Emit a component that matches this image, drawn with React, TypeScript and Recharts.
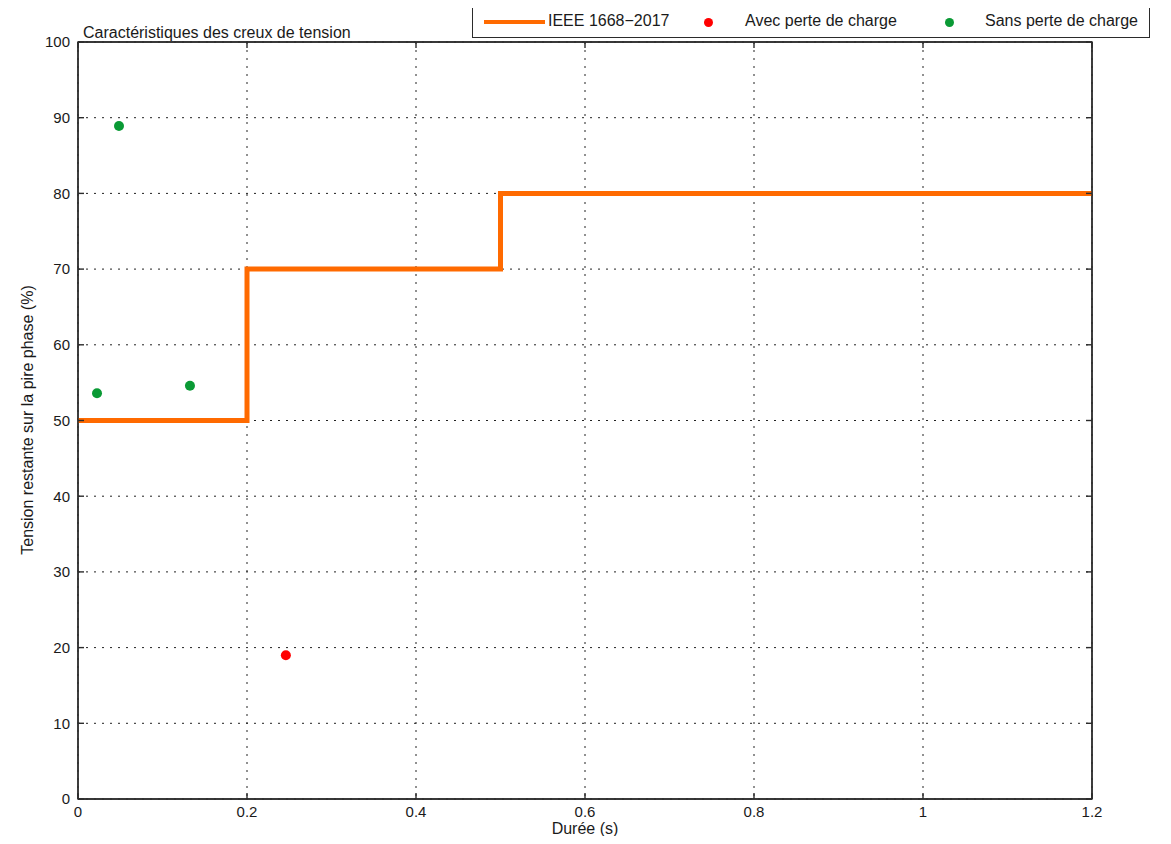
import React from "react";
import {
  ComposedChart,
  Line,
  Scatter,
  XAxis,
  YAxis,
  CartesianGrid,
  Legend,
  ReferenceArea,
} from "recharts";

// IEEE 1668-2017 limit curve (step after each point)
const ieeeDuree = [0, 0.2, 0.5, 1.2];
const ieeeTension = [50, 70, 80, 80];

// measured dips
const avecDuree = [0.246];
const avecTension = [19.0];
const sansDuree = [0.0225, 0.0485, 0.1325];
const sansTension = [53.6, 88.9, 54.6];

const xTicks = [0, 0.2, 0.4, 0.6, 0.8, 1, 1.2];
const yTicks = [0, 10, 20, 30, 40, 50, 60, 70, 80, 90, 100];

const seriesNames = ["IEEE 1668\u22122017", "Avec perte de charge", "Sans perte de charge"];

const ORANGE = "#ff6a00";
const RED = "#ff0000";
const GREEN = "#0a9a35";
const AXIS = "#2b2b2b";
const TEXT = "#1a1a1a";
const FONT = '"Liberation Sans", Arial, Helvetica, sans-serif';

const ieeeData = ieeeDuree.map((x, i) => ({ x, y: ieeeTension[i] }));
const avecData = avecDuree.map((x, i) => ({ x, y: avecTension[i] }));
const sansData = sansDuree.map((x, i) => ({ x, y: sansTension[i] }));

const fmtX = (v: number) => String(v);
const blank = () => "";
const axisLine = { stroke: AXIS, strokeWidth: 1.4 };

const dotShape = (color: string) => (props: any) =>
  <circle cx={props.cx} cy={props.cy} r={5} fill={color} />;

const renderLegend = () => (
  <div
    style={{
      width: 678,
      height: 33,
      boxSizing: "border-box",
      border: `1.5px solid ${AXIS}`,
      background: "#fff",
      position: "relative",
      fontFamily: FONT,
      fontSize: 16,
      color: TEXT,
    }}
  >
    <div style={{ position: "absolute", left: 11, top: 14, width: 61, height: 4, background: ORANGE }} />
    <span style={{ position: "absolute", left: 75, top: 6 }}>{seriesNames[0]}</span>
    <div style={{ position: "absolute", left: 231, top: 12, width: 9, height: 9, borderRadius: 5, background: RED }} />
    <span style={{ position: "absolute", left: 272, top: 6 }}>{seriesNames[1]}</span>
    <div style={{ position: "absolute", left: 472, top: 12, width: 9, height: 9, borderRadius: 5, background: GREEN }} />
    <span style={{ position: "absolute", left: 512, top: 6 }}>{seriesNames[2]}</span>
  </div>
);

const textStyle: React.CSSProperties = {
  position: "absolute",
  fontFamily: FONT,
  fontSize: 16,
  lineHeight: "16px",
  color: TEXT,
  whiteSpace: "nowrap",
  zIndex: 2,
};

export default function App() {
  return (
    <div style={{ margin: -8, width: 1171, height: 844, position: "relative", background: "#fff" }}>
      <div style={{ ...textStyle, left: 83, top: 25 }}>Caractéristiques des creux de tension</div>
      <div style={{ ...textStyle, left: 585, top: 821, transform: "translateX(-50%)" }}>Durée (s)</div>
      <div
        style={{
          ...textStyle,
          left: 28,
          top: 420,
          transform: "translate(-50%, -50%) rotate(-90deg)",
        }}
      >
        Tension restante sur la pire phase (%)
      </div>
      <ComposedChart
        width={1171}
        height={844}
        data={ieeeData}
        margin={{ top: 41, right: 78, left: 0, bottom: 0 }}
        style={{ fontFamily: FONT }}
      >
        <CartesianGrid xAxisId="main" yAxisId="main" stroke="#222" strokeDasharray="2 6" strokeWidth={1} />
        <XAxis
          xAxisId="main"
          dataKey="x"
          type="number"
          domain={[0, 1.2]}
          ticks={xTicks}
          tickFormatter={fmtX}
          height={45}
          tickSize={-6}
          tickMargin={13}
          interval={0}
          axisLine={axisLine}
          tickLine={axisLine}
          tick={{ fill: TEXT, fontSize: 15 }}
          allowDataOverflow
        />
        <XAxis
          xAxisId="top"
          orientation="top"
          dataKey="x"
          type="number"
          domain={[0, 1.2]}
          ticks={xTicks}
          tickFormatter={blank}
          height={1}
          tickSize={-6}
          interval={0}
          axisLine={axisLine}
          tickLine={axisLine}
        />
        <YAxis
          yAxisId="main"
          type="number"
          domain={[0, 100]}
          ticks={yTicks}
          width={78}
          tickSize={-6}
          tickMargin={14}
          interval={0}
          axisLine={axisLine}
          tickLine={axisLine}
          tick={{ fill: TEXT, fontSize: 15 }}
        />
        <YAxis
          yAxisId="right"
          orientation="right"
          type="number"
          domain={[0, 100]}
          ticks={yTicks}
          width={1}
          tickSize={-6}
          tickFormatter={blank}
          interval={0}
          axisLine={axisLine}
          tickLine={axisLine}
        />
        {/* plot box */}
        <ReferenceArea
          xAxisId="main"
          yAxisId="main"
          x1={0}
          x2={1.2}
          y1={0}
          y2={100}
          fill="none"
          fillOpacity={0}
          stroke={AXIS}
          strokeWidth={1.4}
          strokeOpacity={1}
        />
        {/* invisible copy that ties the box axes (top / right) to data */}
        <Line
          xAxisId="top"
          yAxisId="right"
          data={ieeeData}
          dataKey="y"
          stroke="none"
          dot={false}
          legendType="none"
          isAnimationActive={false}
        />
        <Line
          xAxisId="main"
          yAxisId="main"
          data={ieeeData}
          dataKey="y"
          type="stepAfter"
          stroke={ORANGE}
          strokeWidth={5}
          dot={false}
          name={seriesNames[0]}
          isAnimationActive={false}
        />
        <Scatter
          xAxisId="main"
          yAxisId="main"
          data={avecData}
          dataKey="y"
          name={seriesNames[1]}
          fill={RED}
          shape={dotShape(RED)}
          isAnimationActive={false}
        />
        <Scatter
          xAxisId="main"
          yAxisId="main"
          data={sansData}
          dataKey="y"
          name={seriesNames[2]}
          fill={GREEN}
          shape={dotShape(GREEN)}
          isAnimationActive={false}
        />
        <Legend
          layout="vertical"
          align="center"
          verticalAlign="middle"
          content={renderLegend}
          wrapperStyle={{ left: 472, top: 5, width: 678, height: 33 }}
        />
      </ComposedChart>
    </div>
  );
}
